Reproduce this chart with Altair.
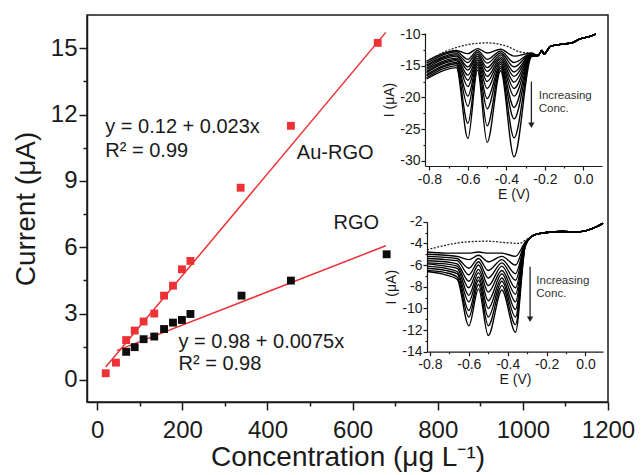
import altair as alt
import pandas as pd

FONT = "Liberation Sans"
RED = "#ec3237"
INK = "#1a1a1a"

# ---------------- main calibration data ----------------
au_conc = [20, 44, 68, 88, 109, 134, 157, 178, 199, 219, 337, 455, 659]
au_curr = [0.30, 0.78, 1.80, 2.23, 2.64, 3.00, 3.81, 4.26, 5.00, 5.38, 8.69, 11.49, 15.24]
rgo_conc = [68, 88, 109, 134, 157, 178, 199, 219, 339, 455, 680]
rgo_curr = [1.27, 1.48, 1.84, 1.96, 2.30, 2.59, 2.71, 2.98, 3.81, 4.49, 5.68]

au_fit_coef = [0.12, 0.023]
rgo_fit_coef = [0.98, 0.0075]
au_fit_range = [20, 678]
rgo_fit_range = [46, 678]

labels_text = ["y = 0.12 + 0.023x", "R\u00b2 = 0.99", "Au-RGO", "RGO",
               "y = 0.98 + 0.0075x", "R\u00b2 = 0.98"]
labels_x = [19, 19, 469, 555, 191, 191]
labels_y = [11.16, 10.09, 9.97, 6.82, 1.43, 0.45]

x_ticks = list(range(0, 1201, 100))
y_ticks = [i * 1.5 for i in range(0, 11)]

# ---------------- inset 1 (Au-RGO voltammograms) ----------------
in1_E = [-0.815, -0.72, -0.66, -0.60, -0.55, -0.50, -0.43, -0.36, -0.27]
in1_cols = [
    [-14.3, -14.6, -14.9, -15.1, -15.4, -15.6, -15.9, -16.1, -16.4, -16.6, -16.9, -17.1],
    [-13.0, -13.2, -13.5, -13.7, -13.9, -14.2, -14.4, -14.6, -14.9, -15.1, -15.4, -15.7],
    [-12.6, -12.8, -13.1, -13.3, -13.5, -13.8, -14.0, -14.2, -14.5, -14.7, -15.0, -15.3],
    [-13.1, -14.0, -14.5, -15.2, -15.7, -16.5, -17.3, -18.3, -19.8, -21.4, -24.1, -26.5],
    [-12.3, -12.6, -12.9, -13.2, -13.5, -13.8, -14.1, -14.4, -14.7, -15.0, -15.3, -15.7],
    [-13.0, -14.0, -14.6, -15.3, -15.9, -16.7, -17.5, -18.6, -20.2, -21.8, -24.5, -27.1],
    [-12.4, -12.7, -13.0, -13.3, -13.6, -13.9, -14.2, -14.5, -14.8, -15.1, -15.4, -15.8],
    [-13.5, -14.5, -15.2, -16.0, -16.7, -17.6, -18.6, -19.8, -21.6, -23.4, -26.4, -29.4],
    [-13.0, -13.1, -13.1, -13.2, -13.2, -13.3, -13.3, -13.4, -13.4, -13.5, -13.5, -13.6],
]
in1_tail_E = [-0.235, -0.215, -0.205, -0.17, -0.11, -0.06, -0.02, 0.03, 0.065]
in1_tail_I = [-13.4, -12.6, -13.2, -11.9, -11.6, -11.4, -10.8, -10.4, -10.0]
in1_blank_E = [-0.815, -0.72, -0.62, -0.50, -0.40, -0.33, -0.27]
in1_blank_I = [-14.3, -12.8, -11.8, -11.4, -11.9, -12.8, -13.0]
in1_arrow = [-0.27, -17.5, -24.4]
in1_note_E = [-0.232, -0.232]
in1_note_I = [-20.2, -22.35]

# ---------------- inset 2 (RGO voltammograms) ----------------
in2_E = [-0.815, -0.72, -0.66, -0.60, -0.55, -0.50, -0.43, -0.36, -0.31]
in2_cols = [
    [-4.8, -5.0, -5.2, -5.4, -5.6, -5.8, -5.9, -6.1, -6.3, -6.5, -6.6],
    [-4.9, -5.1, -5.3, -5.5, -5.7, -5.9, -6.1, -6.3, -6.5, -6.7, -6.9],
    [-4.9, -5.2, -5.4, -5.6, -5.9, -6.1, -6.3, -6.6, -6.8, -7.1, -7.3],
    [-4.9, -5.5, -6.3, -6.9, -7.5, -8.1, -8.8, -9.4, -10.2, -10.8, -11.6],
    [-4.8, -5.1, -5.4, -5.7, -6.0, -6.4, -6.7, -7.1, -7.4, -7.8, -8.2],
    [-4.9, -5.7, -6.5, -7.2, -7.9, -8.5, -9.3, -10.0, -10.8, -11.6, -12.5],
    [-4.9, -5.2, -5.5, -5.8, -6.1, -6.5, -6.8, -7.2, -7.5, -7.9, -8.3],
    [-5.2, -6.0, -6.8, -7.4, -8.1, -8.7, -9.4, -10.1, -10.8, -11.5, -12.2],
    [-3.9, -3.95, -4.0, -4.0, -4.05, -4.1, -4.1, -4.15, -4.2, -4.25, -4.3],
]
in2_tail_E = [-0.28, -0.24, -0.20, -0.12, -0.05, 0.0, 0.04, 0.09]
in2_tail_I = [-3.4, -3.1, -3.0, -2.9, -2.95, -2.85, -2.6, -2.15]
in2_blank_E = [-0.815, -0.70, -0.60, -0.50, -0.40, -0.34, -0.30, -0.24]
in2_blank_I = [-4.6, -4.1, -3.85, -3.8, -3.95, -4.0, -3.6, -3.05]
in2_arrow = [-0.285, -6.15, -11.0]
in2_note_E = [-0.253, -0.253]
in2_note_I = [-7.72, -8.93]

note_text = ["Increasing", "Conc."]


# ---------------- build tables ----------------
def curve_table(E, cols, tail_E, tail_I):
    rows = []
    ncurves = len(cols[0])
    for c in range(ncurves):
        k = 0
        for e, col in zip(E, cols):
            rows.append({"E": e, "I": col[c], "curve": c, "k": k})
            k += 1
        for e, i in zip(tail_E, tail_I):
            rows.append({"E": e, "I": i, "curve": c, "k": k})
            k += 1
    return pd.DataFrame(rows)


def blank_table(E, I):
    rows = [{"E": e, "I": i, "k": n} for n, (e, i) in enumerate(zip(E, I))]
    return pd.DataFrame(rows)


pts = pd.DataFrame({
    "conc": au_conc + rgo_conc,
    "curr": au_curr + rgo_curr,
    "series": ["Au-RGO"] * len(au_conc) + ["RGO"] * len(rgo_conc),
})
fit_rows = []
for name, coef, rng in [("Au-RGO", au_fit_coef, au_fit_range), ("RGO", rgo_fit_coef, rgo_fit_range)]:
    for xv in rng:
        fit_rows.append({"conc": xv, "curr": coef[0] + coef[1] * xv, "series": name})
fit = pd.DataFrame(fit_rows)
labels = pd.DataFrame({"conc": labels_x, "curr": labels_y, "t": labels_text})

# ---------------- main layer ----------------
main_x_axis = alt.Axis(
    values=x_ticks, format="d", title="Concentration (\u03bcg L\u207b\u00b9)",
    labelExpr="datum.value % 200 === 0 ? datum.label : ''",
    tickSize={"condition": {"test": "datum.value % 200 === 0", "value": 8}, "value": 4},
    labelFontSize=24, titleFontSize=28, labelPadding=8, titlePadding=1,
    domainColor=INK, tickColor=INK, domainWidth=1.5, tickWidth=1.5,
    labelColor=INK, titleColor=INK, labelFont=FONT, titleFont=FONT,
    titleFontWeight="normal", grid=False, labelFlush=False, orient="bottom",
)
main_y_axis = alt.Axis(
    values=y_ticks, title="Current (\u03bcA)",
    labelExpr="datum.value % 3 === 0 ? format(datum.value, 'd') : ''",
    tickSize={"condition": {"test": "datum.value % 3 === 0", "value": 8}, "value": 4},
    labelFontSize=24, titleFontSize=28, labelPadding=2, titlePadding=10,
    domainColor=INK, tickColor=INK, domainWidth=1.5, tickWidth=1.5,
    labelColor=INK, titleColor=INK, labelFont=FONT, titleFont=FONT,
    titleFontWeight="normal", grid=False, labelFlush=False, orient="left",
)
mx = alt.X("conc:Q", scale=alt.Scale(domain=[-24, 1200], nice=False, zero=False), axis=main_x_axis)
my = alt.Y("curr:Q", scale=alt.Scale(domain=[-1, 16.5], nice=False, zero=False), axis=main_y_axis)

fit_lines = alt.Chart(fit).mark_line(color=RED, strokeWidth=1.5).encode(x=mx, y=my, detail="series:N")
squares = alt.Chart(pts).mark_square(size=62, opacity=1, filled=True).encode(
    x=mx, y=my,
    color=alt.Color("series:N", scale=alt.Scale(domain=["Au-RGO", "RGO"], range=[RED, "#0d0d0d"]), legend=None),
)
texts = alt.Chart(labels).mark_text(align="left", baseline="alphabetic", fontSize=20, font=FONT, color=INK).encode(
    x=mx, y=my, text="t:N"
)
main = alt.layer(fit_lines, squares, texts)


# ---------------- inset builder ----------------
def make_inset(cdf, bdf, xdom, xrange, ydom, yrange, xvals, yvals, ymajor_mod, arrow, note_E, note_I, plot_h):
    x_axis = alt.Axis(
        values=xvals, title="E (V)", orient="bottom", offset=yrange[0] - plot_h,
        labelExpr="abs(round(datum.value*10)) % 2 === 0 ? replace(format(datum.value, '.1f'), '\u2212', '-') : ''",
        tickSize={"condition": {"test": "abs(round(datum.value*10)) % 2 === 0", "value": 4}, "value": 2},
        labelFontSize=14, titleFontSize=14, labelPadding=2, titlePadding=1,
        domainColor=INK, tickColor=INK, domainWidth=1.2, tickWidth=1.2,
        labelColor=INK, titleColor=INK, labelFont=FONT, titleFont=FONT,
        titleFontWeight="normal", grid=False, labelFlush=False,
    )
    y_axis = alt.Axis(
        values=yvals, title="I (\u03bcA)", orient="left", offset=-xrange[0],
        labelExpr="datum.value % " + str(ymajor_mod) + " === 0 ? replace(format(datum.value, 'd'), '\u2212', '-') : ''",
        tickSize={"condition": {"test": "datum.value % " + str(ymajor_mod) + " === 0", "value": 4}, "value": 2},
        labelFontSize=14, titleFontSize=14, labelPadding=1, titlePadding=3,
        domainColor=INK, tickColor=INK, domainWidth=1.2, tickWidth=1.2,
        labelColor=INK, titleColor=INK, labelFont=FONT, titleFont=FONT,
        titleFontWeight="normal", grid=False, labelFlush=False,
    )
    ix = alt.X("E:Q", scale=alt.Scale(domain=xdom, range=xrange, nice=False, zero=False), axis=x_axis)
    iy = alt.Y("I:Q", scale=alt.Scale(domain=ydom, range=yrange, nice=False, zero=False), axis=y_axis)
    curves = alt.Chart(cdf).mark_line(interpolate="monotone", color="#000000", strokeWidth=1.35).encode(
        x=ix, y=iy, detail="curve:N", order="k:Q"
    )
    blank = alt.Chart(bdf).mark_line(interpolate="monotone", color="#222222", strokeWidth=1.3,
                                     strokeDash=[2, 1.5]).encode(x=ix, y=iy, order="k:Q")
    adf = pd.DataFrame({"E": [arrow[0]], "I": [arrow[1]], "I2": [arrow[2]]})
    shaft = alt.Chart(adf).mark_rule(color="#222222", strokeWidth=1.3).encode(x=ix, y=iy, y2="I2:Q")
    hdf = pd.DataFrame({"E": [arrow[0]], "I": [arrow[2]]})
    head = alt.Chart(hdf).mark_point(shape="triangle-down", filled=True, size=40, color="#222222", opacity=1).encode(
        x=ix, y=iy
    )
    ndf = pd.DataFrame({"E": note_E, "I": note_I, "t": note_text})
    note = alt.Chart(ndf).mark_text(align="left", baseline="alphabetic", fontSize=11.5, font=FONT,
                                    color="#333333").encode(x=ix, y=iy, text="t:N")
    return alt.layer(curves, blank, shaft, head, note)


PLOT_W, PLOT_H = 521, 387

inset1 = make_inset(
    curve_table(in1_E, in1_cols, in1_tail_E, in1_tail_I),
    blank_table(in1_blank_E, in1_blank_I),
    [-0.823, 0.097], [338, 515], [-30.84, -9.84], [151, 18],
    [round(-0.8 + 0.1 * i, 1) for i in range(9)],
    [-30 + 2.5 * i for i in range(9)], 5,
    in1_arrow, in1_note_E, in1_note_I, PLOT_H,
)
inset2 = make_inset(
    curve_table(in2_E, in2_cols, in2_tail_E, in2_tail_I),
    blank_table(in2_blank_E, in2_blank_I),
    [-0.815, 0.09], [340, 516], [-14, -2], [336.7, 206.7],
    [round(-0.8 + 0.1 * i, 1) for i in range(9)],
    [-14 + i for i in range(13)], 2,
    in2_arrow, in2_note_E, in2_note_I, PLOT_H,
)

chart = alt.layer(main, inset1, inset2).resolve_scale(
    x="independent", y="independent"
).properties(
    width=PLOT_W, height=PLOT_H,
    padding={"left": 87, "top": 15, "right": 35, "bottom": 73},
    autosize=alt.AutoSizeParams(type="none"),
    background="white",
).configure_view(stroke=INK, strokeWidth=1.5)

chart.save("out.html", embed_options={"renderer": "svg", "actions": False})
